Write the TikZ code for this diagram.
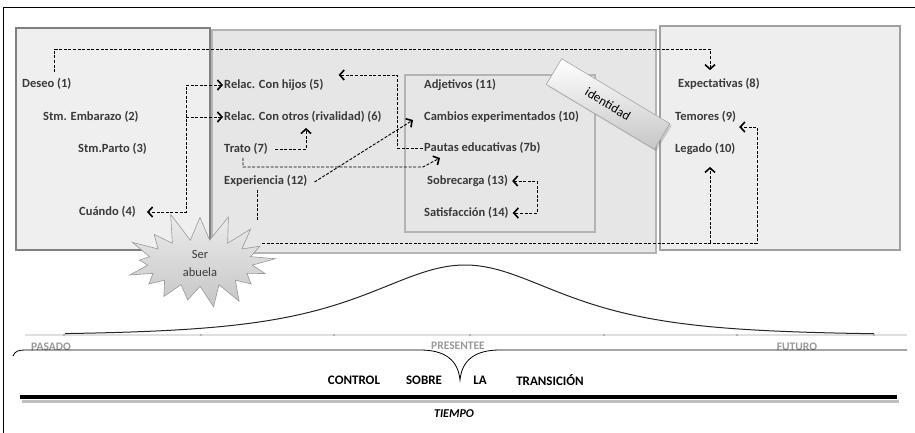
\documentclass[tikz,border=0pt]{standalone}
\usepackage{fontspec}
\setmainfont{Carlito}
\usetikzlibrary{arrows.meta,shapes.symbols,shadows,calc}
\definecolor{txt}{HTML}{3A3A3A}
\definecolor{leftfill}{HTML}{EFEFEF}
\definecolor{leftdraw}{HTML}{808080}
\definecolor{midfill}{HTML}{E6E6E6}
\definecolor{middraw}{HTML}{B4B4B4}
\definecolor{rightfill}{HTML}{EEEEEE}
\definecolor{rightdraw}{HTML}{A0A0A0}
\definecolor{timegray}{HTML}{999999}
\begin{document}
\begin{tikzpicture}[x=1pt,y=-1pt,
  lbl/.style={font=\bfseries\fontsize{12.5}{14}\selectfont, text=txt, anchor=west, inner xsep=1pt, inner ysep=3pt},
  tlbl/.style={font=\bfseries\fontsize{11.5}{13}\selectfont, text=timegray, inner sep=0pt},
  clbl/.style={font=\bfseries\fontsize{13}{15}\selectfont, text=black, inner sep=0pt},
  dsh/.style={dash pattern=on 3pt off 1.6pt, line width=0.9pt, draw=black},
  barb/.tip={Straight Barb[length=4.5pt,width=10pt,line width=1.6pt]},
  tip/.style={dsh, -barb},
  tips/.style={dsh, barb-barb},
  panel/.style={line width=2pt}
]
\useasboundingbox (0,0) rectangle (915,433);
% outer frame
\draw[line width=0.8pt] (915,7) -- (3,7) -- (3,440);

% panels
\draw[panel, fill=leftfill, draw=leftdraw] (16,28) rectangle (210,250);
\draw[panel, fill=midfill, draw=middraw] (212,30) rectangle (656,253);
\draw[panel, fill=rightfill, draw=rightdraw] (660,26) rectangle (900,250);
\draw[panel, fill=midfill, draw=middraw] (405,75) rectangle (595,232);

% labels
\node[lbl] (deseo)   at (21,84)  {Deseo (1)};
\node[lbl] (emb)     at (42,117) {Stm. Embarazo (2)};
\node[lbl] (parto)   at (77,149) {Stm.Parto (3)};
\node[lbl] (cuando)  at (78,212) {Cuándo (4)};
\node[lbl] (hijos)   at (223,85) {Relac. Con hijos (5)};
\node[lbl] (otros)   at (223,117) {Relac. Con otros (rivalidad) (6)};
\node[lbl] (trato)   at (223,149) {Trato (7)};
\node[lbl] (exper)   at (223,181) {Experiencia (12)};
\node[lbl] (adj)     at (423,85) {Adjetivos (11)};
\node[lbl] (cambios) at (423,117) {Cambios experimentados (10)};
\node[lbl] (pautas)  at (423,148) {Pautas educativas (7b)};
\node[lbl] (sobre)   at (426,181) {Sobrecarga (13)};
\node[lbl] (satisf)  at (423,213) {Satisfacción (14)};
\node[lbl] (expect)  at (677,84) {Expectativas (8)};
\node[lbl] (temores) at (674,117) {Temores (9)};
\node[lbl] (legado)  at (674,149) {Legado (10)};

% bend coordinates
\coordinate (top) at (710,49);
\coordinate (bx) at (186,212);
\coordinate (c306) at (306,128);
\coordinate (t1) at (243,167);
\coordinate (t2) at (423,167);
\coordinate (t3) at (440,158);
\coordinate (p1) at (397,75);
\coordinate (ex1) at (257,222);
\coordinate (s1) at (262,243);
\coordinate (s2) at (757,243);
\coordinate (s3) at (757,127);
\coordinate (lg) at (710,243);
\coordinate (sb) at (537,198);

% connectors
\draw[tip] ([xshift=8pt,yshift=3pt]deseo.north) |- (top) -- ([yshift=5pt]top |- expect.north);
\draw[tips] (hijos.west) -- (hijos.west -| bx) -- (bx) -- ([xshift=10pt]bx -| cuando.east);
\draw[tip] (bx |- otros.west) -- (otros.west);
\draw[tip] ([xshift=6pt]trato.east) -| (c306);
\draw[tip] (trato.south -| t1) -- (t1) -- (t2) -- (t3);
\draw[tip] ([xshift=6pt,yshift=-1pt]exper.east) -- ([xshift=-10pt,yshift=-3pt]cambios.west);
\draw[tip] (pautas.west) -| (p1) -- ([xshift=14pt]hijos.east |- p1);
\draw[tips] ([xshift=3pt]sobre.east) -| (sb) |- ([xshift=3pt]satisf.east);
\draw[dsh] (exper.south -| ex1) -- (ex1);
\draw[tip] (s1) -- (s2) -- (s3) -- ([xshift=2pt]temores.east |- s3);
\draw[tip] (lg) -- ([yshift=-9pt]legado.south -| lg);

% Ser abuela star
\node[starburst, starburst points=17, starburst point height=30pt, random starburst=11,
      minimum width=165pt, minimum height=95pt, draw=gray!80, line width=0.6pt,
      top color=gray!15, bottom color=gray!45,
      font=\fontsize{12.5}{18}\selectfont, text=txt, align=center] (star) at (200,263) {Ser\\abuela};

% identidad tag
\node[rotate=-31, draw=gray!70, line width=0.6pt, top color=white, bottom color=gray!45,
      minimum width=126pt, minimum height=30pt, drop shadow={shadow xshift=2pt, shadow yshift=-2pt, opacity=0.35},
      font=\fontsize{13}{15}\selectfont, text=black] (ident) at (608,104) {identidad};

% time axis
\draw[line width=1.2pt, gray!25] (25,335) -- (907,335);
\foreach \px in {64,201,334,470,604,737,874}
  \fill[gray!70] (\px,335) circle (1.2pt);
\draw[line width=1pt, black!85] plot[domain=65:874, samples=150, smooth] (\x, {335-70/cosh((\x-465)/87)});

\node[tlbl, anchor=west] (pasado) at (31,347) {PASADO};
\node[tlbl] (presente) at (458,346) {PRESENTEE};
\node[tlbl] (futuro) at (797,347) {FUTURO};

% brace
\draw[line width=0.8pt] (13,356) .. controls (15,351) and (18,350) .. (27,350) -- (420,350)
  .. controls (445,350) and (458,360) .. (460,380)
  .. controls (462,360) and (475,350) .. (500,350) -- (907,350);

\node[clbl] (control) at (354,380) {CONTROL};
\node[clbl] (sobrel) at (424,380) {SOBRE};
\node[clbl] (la) at (480,380) {LA};
\node[clbl] (trans) at (550,380) {TRANSICIÓN};

% timeline
\draw[line width=3pt, black!25] (22,401) -- (899,401);
\draw[line width=4.5pt, black] (20,397) -- (897,397);
\node[font=\bfseries\itshape\fontsize{12}{13}\selectfont, inner sep=0pt] (tiempo) at (454,414) {TIEMPO};
\end{tikzpicture}
\end{document}
